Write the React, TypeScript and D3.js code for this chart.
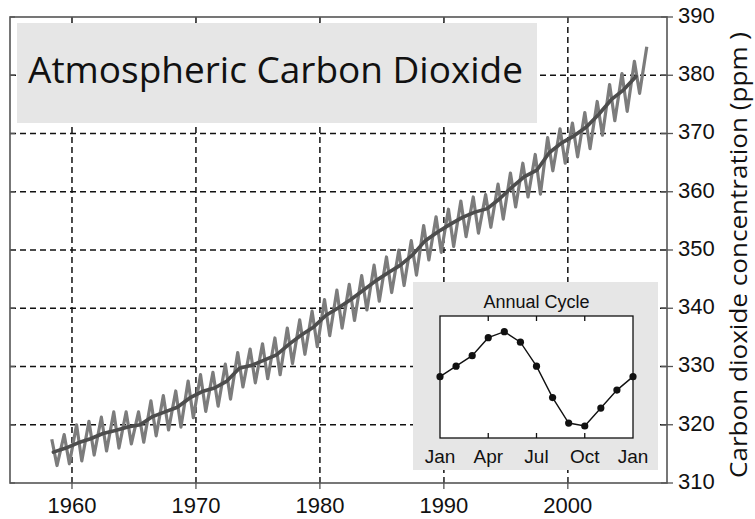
import React from 'react';
import * as d3 from 'd3';

// monthly record, read as one May peak and one autumn low per year
const firstYear = 1958;
const mayPeaks = [
  317.5, 318.3, 320.0, 320.6, 321.3, 322.2, 322.2, 322.2, 324.1, 325.0,
  325.8, 327.5, 328.6, 329.0, 330.4, 332.4, 333.0, 333.9, 334.9, 336.6,
  338.0, 339.5, 341.5, 343.1, 344.1, 345.6, 347.4, 348.8, 350.0, 351.6,
  354.2, 355.7, 357.0, 358.4, 359.1, 359.5, 361.3, 363.2, 364.9, 366.4,
  369.3, 370.8, 371.8, 373.6, 375.5, 378.4, 380.3, 382.4, 384.9,
];
const autumnLows = [
  313.0, 313.3, 313.8, 314.8, 315.5, 316.0, 316.7, 317.0, 318.1, 319.1,
  319.6, 321.2, 322.3, 323.2, 324.4, 326.5, 327.2, 327.9, 328.6, 330.5,
  332.1, 333.4, 335.3, 336.6, 337.9, 339.7, 341.2, 342.7, 343.9, 345.7,
  348.3, 349.6, 350.6, 352.3, 352.9, 353.9, 355.3, 357.4, 359.1, 359.6,
  363.6, 364.9, 366.0, 367.4, 369.7, 372.2, 373.8, 376.9,
];
// smoothed trend (annual means)
const annualMeans = [
  315.3, 316.0, 316.9, 317.6, 318.5, 319.0, 319.6, 320.0, 321.4, 322.2,
  323.0, 324.6, 325.7, 326.3, 327.5, 329.7, 330.2, 331.1, 332.0, 333.8,
  335.4, 336.8, 338.8, 340.1, 341.5, 343.1, 344.7, 346.1, 347.4, 349.2,
  351.6, 353.1, 354.4, 355.6, 356.5, 357.1, 358.8, 360.8, 362.6, 363.7,
  366.7, 368.4, 369.6, 371.1, 373.3, 375.8, 377.5, 379.8,
];

const yearTicks = [1960, 1970, 1980, 1990, 2000];
const ppmTicks = [310, 320, 330, 340, 350, 360, 370, 380, 390];
const gridPpm = [320, 330, 340, 350, 360, 370, 380];

// inset: mean seasonal departure, Jan .. next Jan
const cycleMonths = ['Jan', 'Feb', 'Mar', 'Apr', 'May', 'Jun', 'Jul', 'Aug', 'Sep', 'Oct', 'Nov', 'Dec', 'Jan'];
const cycleValues = [0.0, 0.7, 1.4, 2.6, 3.0, 2.3, 0.7, -1.4, -3.1, -3.3, -2.1, -0.9, 0.0];
const cycleLabels = ['Jan', 'Apr', 'Jul', 'Oct', 'Jan'];

const W = 755;
const H = 519;
const frame = { left: 10, top: 17, right: 667, bottom: 483 };

export default function App() {
  const x = d3.scaleLinear().domain([1955, 2008]).range([frame.left, frame.right]);
  const y = d3.scaleLinear().domain([310, 390]).range([frame.bottom, frame.top]);

  const seasonal: [number, number][] = [];
  mayPeaks.forEach((v, i) => {
    seasonal.push([firstYear + i + 0.37, v]);
    if (i < autumnLows.length) seasonal.push([firstYear + i + 0.79, autumnLows[i]]);
  });
  const trend: [number, number][] = annualMeans.map((v, i) => [firstYear + i + 0.5, v]);

  const line = d3.line<[number, number]>().x(d => x(d[0])).y(d => y(d[1]));

  // inset scales
  const inset = { left: 440, right: 633, top: 316, bottom: 438 };
  const ix = d3.scalePoint<number>().domain(d3.range(cycleMonths.length)).range([inset.left, inset.right]);
  const iy = d3.scaleLinear().domain([-4.1, 4.05]).range([inset.bottom, inset.top]);
  const iline = d3.line<number>().x((_, i) => ix(i) as number).y(d => iy(d));
  const labelIdx = [0, 3, 6, 9, 12];

  const axisFont = '"Liberation Sans", Arial, sans-serif';
  const frameColor = '#555';

  return (
    <svg width={W} height={H} style={{ position: 'absolute', left: 0, top: 0, background: '#fff' }}>
      {/* grid */}
      <g stroke="#111" strokeWidth={1.5} strokeDasharray="6,4" fill="none">
        {yearTicks.map(t => (
          <line key={'gx' + t} x1={x(t)} x2={x(t)} y1={frame.top} y2={frame.bottom} />
        ))}
        {gridPpm.map(t => (
          <line key={'gy' + t} x1={frame.left} x2={frame.right} y1={y(t)} y2={y(t)} />
        ))}
      </g>

      {/* data */}
      <path d={line(seasonal) || ''} fill="none" stroke="#7c7c7c" strokeWidth={3.2} strokeLinejoin="round" />
      <path d={line(trend) || ''} fill="none" stroke="#4d4d4d" strokeWidth={3.6} strokeLinejoin="round" strokeLinecap="round" />

      {/* title box */}
      <rect x={17} y={23} width={520} height={100} fill="#e6e6e6" />
      <text x={28} y={83} fontFamily='"Open Sans", "Noto Sans", sans-serif' fontSize={36} fill="#111"
        textLength={495} lengthAdjust="spacingAndGlyphs">Atmospheric Carbon Dioxide</text>

      {/* inset */}
      <rect x={413} y={282} width={245} height={188} fill="#e6e6e6" />
      <rect x={inset.left} y={inset.top} width={inset.right - inset.left} height={inset.bottom - inset.top}
        fill="#fff" stroke="#111" strokeWidth={1.3} />
      {[3, 6, 9].map(i => (
        <g key={'it' + i} stroke="#111" strokeWidth={1.3}>
          <line x1={ix(i)} x2={ix(i)} y1={inset.top} y2={inset.top + 5} />
          <line x1={ix(i)} x2={ix(i)} y1={inset.bottom} y2={inset.bottom - 5} />
        </g>
      ))}
      <path d={iline(cycleValues) || ''} fill="none" stroke="#111" strokeWidth={1.4} />
      {cycleValues.map((v, i) => (
        <circle key={'c' + i} cx={ix(i)} cy={iy(v)} r={3.6} fill="#111" />
      ))}
      <text x={(inset.left + inset.right) / 2} y={308} textAnchor="middle" fontFamily={axisFont} fontSize={18} fill="#111">Annual Cycle</text>
      {labelIdx.map((idx, k) => (
        <text key={'ml' + k} x={ix(idx)} y={463} textAnchor="middle" fontFamily={axisFont} fontSize={19} fill="#111">
          {cycleLabels[k]}
        </text>
      ))}

      {/* frame and axes */}
      <rect x={frame.left} y={frame.top} width={frame.right - frame.left} height={frame.bottom - frame.top}
        fill="none" stroke={frameColor} strokeWidth={1.6} />
      {ppmTicks.map(t => (
        <g key={'yt' + t}>
          <line x1={frame.right - 6} x2={frame.right + 6} y1={y(t)} y2={y(t)} stroke={frameColor} strokeWidth={1.3} />
          <line x1={frame.left} x2={frame.left + 5} y1={y(t)} y2={y(t)} stroke={frameColor} strokeWidth={1.3} />
          <text x={678} y={y(t)} dominantBaseline="middle" fontFamily={axisFont} fontSize={22} fill="#111">{t}</text>
        </g>
      ))}
      {yearTicks.map(t => (
        <g key={'xt' + t}>
          <line x1={x(t)} x2={x(t)} y1={frame.bottom - 6} y2={frame.bottom + 6} stroke={frameColor} strokeWidth={1.3} />
          <line x1={x(t)} x2={x(t)} y1={frame.top} y2={frame.top + 5} stroke={frameColor} strokeWidth={1.3} />
          <text x={x(t)} y={507} textAnchor="middle" dominantBaseline="middle" fontFamily={axisFont} fontSize={22} fill="#111">{t}</text>
        </g>
      ))}
      <text transform="translate(747,255) rotate(-90)" textAnchor="middle" fontFamily='"Open Sans", "Noto Sans", sans-serif'
        fontSize={24} fill="#111" textLength={446} lengthAdjust="spacingAndGlyphs">Carbon dioxide concentration (ppm )</text>
    </svg>
  );
}
